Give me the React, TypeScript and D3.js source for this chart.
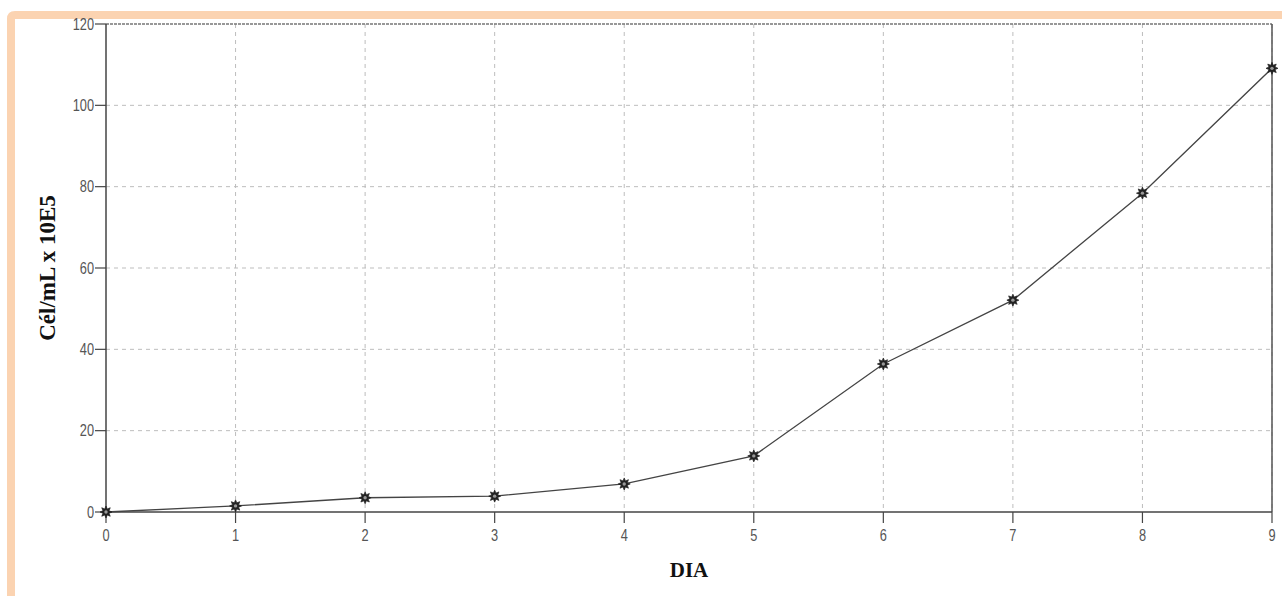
import React from "react";
import * as d3 from "d3";

const days = [0, 1, 2, 3, 4, 5, 6, 7, 8, 9];
const cells = [0, 1.5, 3.5, 3.9, 6.9, 13.8, 36.4, 52.1, 78.4, 109.1];
const yTicks = [0, 20, 40, 60, 80, 100, 120];
const xTitle = "DIA";
const yTitle = "Cél/mL x 10E5";

const W = 1282;
const H = 596;
const M = { left: 106, right: 1272, top: 24, bottom: 512 };

function starPath(r: number): string {
  const pts: [number, number][] = [];
  const n = 8;
  for (let i = 0; i < n * 2; i++) {
    const a = (Math.PI * i) / n;
    const rr = i % 2 === 0 ? r : r * 0.55;
    pts.push([Math.sin(a) * rr, -Math.cos(a) * rr]);
  }
  return "M" + pts.map((p) => p[0].toFixed(2) + "," + p[1].toFixed(2)).join("L") + "Z";
}

export default function App() {
  const x = d3.scaleLinear().domain([0, 9]).range([M.left, M.right]);
  const y = d3.scaleLinear().domain([0, 120]).range([M.bottom, M.top]);
  const line = d3
    .line<number>()
    .x((_, i) => x(days[i]))
    .y((d) => y(d));
  const star = starPath(6);
  const tickFont = "'Liberation Sans', sans-serif";
  const titleFont = "'Liberation Serif', 'Times New Roman', serif";

  return (
    <svg
      width={W}
      height={H}
      style={{ position: "absolute", left: 0, top: 0, background: "#fff" }}
    >
      {/* peach frame */}
      <path
        d={`M11,596 L11,19 Q11,15 15,15 L1282,15`}
        fill="none"
        stroke="#FBD3B1"
        strokeWidth={8}
      />
      {/* grid */}
      {days.slice(1).map((d) => (
        <line
          key={"gx" + d}
          x1={x(d)}
          x2={x(d)}
          y1={M.top}
          y2={M.bottom}
          stroke="#bdbdbd"
          strokeWidth={1}
          strokeDasharray="4,4"
        />
      ))}
      {yTicks.slice(1).map((t) => (
        <line
          key={"gy" + t}
          x1={M.left}
          x2={M.right}
          y1={y(t)}
          y2={y(t)}
          stroke={t === 120 ? "#777" : "#bdbdbd"}
          strokeWidth={t === 120 ? 1.4 : 1}
          strokeDasharray={t === 120 ? "3,1" : "4,4"}
        />
      ))}
      {/* axes */}
      <line x1={M.left} x2={M.left} y1={M.top} y2={M.bottom} stroke="#444" strokeWidth={1.5} />
      <line x1={M.right} x2={M.right} y1={M.top} y2={M.bottom} stroke="#555" strokeWidth={1.5} />
      <line x1={M.left} x2={M.right} y1={M.bottom} y2={M.bottom} stroke="#444" strokeWidth={1.5} />
      {yTicks.map((t) => (
        <g key={"yt" + t}>
          <line x1={M.left - 11} x2={M.left} y1={y(t)} y2={y(t)} stroke="#444" strokeWidth={1.2} />
          <text
            transform={`translate(${M.left - 12},${y(t)}) scale(0.8,1)`}
            dy="0.35em"
            textAnchor="end"
            fontFamily={tickFont}
            fontSize={16}
            fill="#555"
          >
            {t}
          </text>
        </g>
      ))}
      {days.map((d) => (
        <g key={"xt" + d}>
          <line x1={x(d)} x2={x(d)} y1={M.bottom} y2={M.bottom + 11} stroke="#444" strokeWidth={1.2} />
          <text
            transform={`translate(${x(d)},${M.bottom + 23}) scale(0.8,1)`}
            dy="0.35em"
            textAnchor="middle"
            fontFamily={tickFont}
            fontSize={16}
            fill="#555"
          >
            {d}
          </text>
        </g>
      ))}
      {/* series */}
      <path d={line(cells) || ""} fill="none" stroke="#444" strokeWidth={1.3} />
      {cells.map((v, i) => (
        <g key={"m" + i} transform={`translate(${x(days[i])},${y(v)})`}>
          <path d={star} fill="#222" stroke="#222" strokeWidth={0.7} />
          <circle r={1.7} fill="#999" />
        </g>
      ))}
      {/* titles */}
      <text
        x={(M.left + M.right) / 2}
        y={570}
        dy="0.35em"
        textAnchor="middle"
        fontFamily={titleFont}
        fontWeight="bold"
        fontSize={21}
        fill="#111"
      >
        {xTitle}
      </text>
      <text
        transform={`translate(47,${(M.top + M.bottom) / 2}) rotate(-90)`}
        dy="0.35em"
        textAnchor="middle"
        fontFamily={titleFont}
        fontWeight="bold"
        fontSize={23}
        fill="#111"
      >
        {yTitle}
      </text>
    </svg>
  );
}
